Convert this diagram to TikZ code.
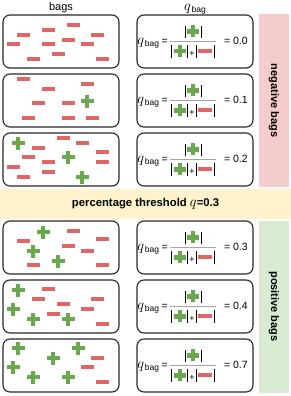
\documentclass[tikz,border=0pt]{standalone}
\usepackage{fontspec}
\setmainfont{Liberation Sans}
\usepackage{amsmath}
\usepackage{xcolor}
\definecolor{minusred}{HTML}{E06666}
\definecolor{plusgreen}{HTML}{6AA84F}
\definecolor{negfill}{HTML}{F4CCCC}
\definecolor{posfill}{HTML}{D9EAD3}
\definecolor{qfill}{HTML}{FFF2CC}
% icons used inside the formulas
\newcommand{\barmark}{\rule[-1.5pt]{0.9pt}{12.5pt}}
\newcommand{\plusicon}{{\color{plusgreen}\rlap{\rule[2.75pt]{12pt}{4.5pt}}\kern3.75pt\rule[-0.75pt]{4.5pt}{12pt}\kern3.75pt}}
\newcommand{\minusicon}{{\color{minusred}\rule[3pt]{14pt}{4pt}}}
\newcommand{\cnt}[1]{\kern1pt\barmark\kern1.5pt#1\kern1.5pt\barmark\kern1pt}
\newcommand{\qsym}{{\fontsize{15}{15}\selectfont$q$}}
\newcommand{\qbag}{\qsym\kern0.8pt\raisebox{-2.5pt}{\fontsize{8.5}{9}\selectfont bag}}
\newcommand{\qfrac}{{\color{gray!70}$\displaystyle\genfrac{}{}{1pt}{}%
  {\text{\color{black}\cnt{\plusicon}}}%
  {\text{\color{black}\cnt{\plusicon}\kern0.3pt{\fontsize{9}{9}\selectfont+}\kern0.3pt\cnt{\minusicon}}}$}}
\newcommand{\qline}[1]{\qbag\kern2.5pt=\kern1.5pt\qfrac\kern7pt= #1\kern5pt}

\begin{document}
\begin{tikzpicture}[
  x=1pt,y=-1pt,
  bagbox/.style={draw=black!85,line width=1.1pt,rounded corners=7pt,
                 minimum width=116,minimum height=53,inner sep=0pt},
  qbox/.style={bagbox,font=\fontsize{10.5}{12}\selectfont},
  head/.style={font=\fontsize{11}{13}\selectfont,inner sep=0pt,anchor=base},
  sideband/.style={rotate=-90,minimum width=172,minimum height=30,inner sep=0pt,
                   font=\bfseries\fontsize{11}{13}\selectfont},
  minusmark/.pic={\fill[minusred] (-6.5,-2.25) rectangle (6.5,2.25);},
  plusmark/.pic={\fill[plusgreen] (-6.5,-2.25) rectangle (6.5,2.25);
                 \fill[plusgreen] (-2.25,-6.5) rectangle (2.25,6.5);}
]
\useasboundingbox (0,0) rectangle (291,396);
% side bands and threshold band
\node[sideband,fill=negfill] (neg) at (274,100.5) {negative bags};
\node[sideband,fill=posfill] (pos) at (274,306.5) {positive bags};
\node[fill=qfill,minimum width=291,minimum height=30,inner sep=0pt,
      font=\bfseries\fontsize{11.3}{13}\selectfont] (thr) at (145.5,204)
      {percentage threshold \qsym=0.3};
% headers
\node[head] (bagshead) at (61,10.5) {bags};
\node[head] (qhead) at (195,10.5) {\qbag};
% bags
\node[bagbox] (bag1) at (61,41.5) {};
\node[bagbox] (bag2) at (61,100.5) {};
\node[bagbox] (bag3) at (61,159.5) {};
\node[bagbox] (bag4) at (61,247.5) {};
\node[bagbox] (bag5) at (61,306.5) {};
\node[bagbox] (bag6) at (61,365.5) {};
% formulas
\node[qbox] (q1) at (195,41.5) {\qline{0.0}};
\node[qbox] (q2) at (195,100.5) {\qline{0.1}};
\node[qbox] (q3) at (195,159.5) {\qline{0.2}};
\node[qbox] (q4) at (195,247.5) {\qline{0.3}};
\node[qbox] (q5) at (195,306.5) {\qline{0.4}};
\node[qbox] (q6) at (195,365.5) {\qline{0.7}};
% instances inside the bags
\path (73,25) pic{minusmark} (48,30) pic{minusmark} (23,35) pic{minusmark}
      (97,35) pic{minusmark} (13,44) pic{minusmark} (48,44) pic{minusmark}
      (68,40) pic{minusmark} (87,44) pic{minusmark} (58,54) pic{minusmark}
      (33,59) pic{minusmark} (102,59) pic{minusmark};
\path (23,79) pic{minusmark} (48,89) pic{minusmark} (87,84) pic{minusmark}
      (38,103) pic{minusmark} (68,103) pic{minusmark} (28,118) pic{minusmark}
      (68,118) pic{minusmark} (92,118) pic{minusmark} (87,101) pic{plusmark};
\path (63,138) pic{minusmark} (82,143) pic{minusmark} (38,148) pic{minusmark}
      (28,157) pic{minusmark} (48,162) pic{minusmark} (102,152) pic{minusmark}
      (102,162) pic{minusmark} (13,167) pic{minusmark} (48,172) pic{minusmark}
      (23,177) pic{minusmark}
      (18,143) pic{plusmark} (68,157) pic{plusmark} (82,177) pic{plusmark};
\path (73,231) pic{minusmark} (23,241) pic{minusmark} (102,239) pic{minusmark}
      (68,246) pic{minusmark} (87,251) pic{minusmark} (33,265) pic{minusmark}
      (102,265) pic{minusmark}
      (43,232) pic{plusmark} (33,251) pic{plusmark} (58,261) pic{plusmark};
\path (48,289) pic{minusmark} (38,299) pic{minusmark} (63,304) pic{minusmark}
      (97,299) pic{minusmark} (87,309) pic{minusmark} (53,314) pic{minusmark}
      (102,324) pic{minusmark}
      (18,290) pic{plusmark} (13,309) pic{plusmark} (33,319) pic{plusmark}
      (68,319) pic{plusmark};
\path (97,358) pic{minusmark} (87,367) pic{minusmark} (102,382) pic{minusmark}
      (18,348) pic{plusmark} (78,348) pic{plusmark} (53,358) pic{plusmark}
      (13,367) pic{plusmark} (33,377) pic{plusmark} (68,377) pic{plusmark};
\end{tikzpicture}
\end{document}
